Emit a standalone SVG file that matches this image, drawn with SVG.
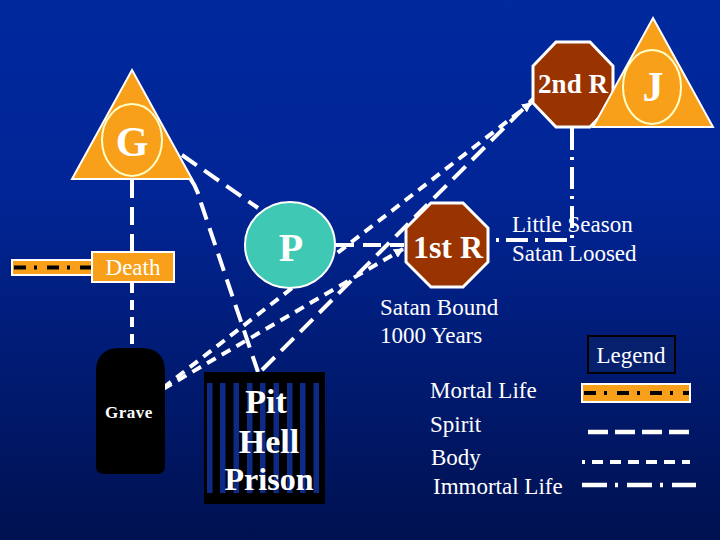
<svg xmlns="http://www.w3.org/2000/svg" width="720" height="540" viewBox="0 0 720 540">
<defs>
<linearGradient id="bg" x1="0" y1="0" x2="0" y2="1">
<stop offset="0" stop-color="#00299e"/>
<stop offset="0.35" stop-color="#012596"/>
<stop offset="1" stop-color="#001150"/>
</linearGradient>
<marker id="arr" viewBox="0 0 10 10" refX="9" refY="5" markerWidth="2.5" markerHeight="2.5" orient="auto" markerUnits="strokeWidth">
<path d="M0,0 L10,5 L0,10 z" fill="#fff"/>
</marker>
<style>
.txt{font-family:"Liberation Serif","Times New Roman",serif;fill:#fff}
.b{font-weight:bold}
.spirit{fill:none;stroke:#fff;stroke-width:4;stroke-dasharray:18 9}
.body{fill:none;stroke:#fff;stroke-width:4;stroke-dasharray:10 7}
.immortal{fill:none;stroke:#fff;stroke-width:4;stroke-dasharray:22 7 3 7}
.band{fill:#f9a01b;stroke:#fff;stroke-width:2}
.mortal{fill:none;stroke:#000;stroke-width:4;stroke-dasharray:12 8 3 10}
.tri{fill:#f9a01b;stroke:#fff;stroke-width:2}
.oval{fill:none;stroke:#ffffc8;stroke-width:2}
.oct{fill:#993300;stroke:#fff;stroke-width:3}
.bar{fill:#0c2a88}
</style>
</defs>
<rect x="0" y="0" width="720" height="540" fill="url(#bg)"/>

<g id="connectors">
  <rect class="band" x="12" y="260" width="80" height="15"/>
  <line class="mortal" x1="14" y1="267.5" x2="91" y2="267.5"/>
  <line class="spirit" x1="132" y1="180" x2="132" y2="252"/>
  <line class="body" x1="132" y1="283" x2="132" y2="348"/>
  <line class="spirit" x1="182" y1="155" x2="258" y2="208"/>
  <path class="spirit" d="M190,178 C196,186 199,195 201,203 L258,372"/>
  <line class="spirit" x1="336" y1="245" x2="404" y2="245"/>
  <line class="body" x1="163" y1="389" x2="403" y2="249" marker-end="url(#arr)"/>
  <line class="body" x1="163" y1="388" x2="531" y2="103" marker-end="url(#arr)"/>
  <line class="spirit" x1="262" y1="370" x2="533" y2="99"/>
  <polyline class="immortal" points="572,128 572,240 489,240"/>
</g>

<g id="node-G">
  <polygon class="tri" points="132,70 192,179 72,179"/>
  <ellipse class="oval" cx="132" cy="140" rx="30" ry="36"/>
  <text class="txt b" x="132" y="156" font-size="42" text-anchor="middle">G</text>
</g>

<g id="node-death">
  <rect x="92" y="252" width="82" height="30" fill="#f9a01b" stroke="#fff" stroke-width="2"/>
  <text class="txt" x="133" y="275" font-size="23" text-anchor="middle">Death</text>
</g>

<g id="node-grave">
  <path d="M104,474 Q96,474 96,466 L96,372 Q96,348 120,348 L141,348 Q165,348 165,372 L165,466 Q165,474 157,474 Z" fill="#000"/>
  <text class="txt b" x="129" y="418" font-size="17" letter-spacing="0.5" text-anchor="middle">Grave</text>
</g>

<g id="node-pit">
  <rect x="204" y="372" width="121" height="132" fill="#000"/>
  <rect class="bar" x="207" y="383" width="5.5" height="110"/>
  <rect class="bar" x="220" y="383" width="5.5" height="110"/>
  <rect class="bar" x="233.5" y="383" width="5.5" height="110"/>
  <rect class="bar" x="247" y="383" width="5.5" height="110"/>
  <rect class="bar" x="260" y="383" width="5.5" height="110"/>
  <rect class="bar" x="273.5" y="383" width="5.5" height="110"/>
  <rect class="bar" x="287" y="383" width="5.5" height="110"/>
  <rect class="bar" x="300" y="383" width="5.5" height="110"/>
  <rect class="bar" x="313.5" y="383" width="5.5" height="110"/>
  <text class="txt b" x="266" y="413" font-size="34" text-anchor="middle">Pit</text>
  <text class="txt b" x="269" y="453" font-size="34" text-anchor="middle">Hell</text>
  <text class="txt b" x="269" y="490" font-size="32" text-anchor="middle">Prison</text>
</g>

<g id="node-P">
  <ellipse cx="290" cy="245" rx="45" ry="43" fill="#3fc8b4" stroke="#fff" stroke-width="2"/>
  <text class="txt b" x="291" y="261" font-size="40" text-anchor="middle">P</text>
</g>

<g id="node-1stR">
  <polygon class="oct" points="431,203 463,203 488,228 488,262 463,287 431,287 406,262 406,228"/>
  <text class="txt b" x="448" y="258" font-size="32" text-anchor="middle">1st R</text>
</g>

<g id="node-2ndR">
  <polygon class="oct" points="556,42 590,42 613,66 613,103 590,127 556,127 533,103 533,66"/>
  <text class="txt b" x="573" y="93" font-size="27" text-anchor="middle">2nd R</text>
</g>

<g id="node-J">
  <polygon class="tri" points="653,18 713,127 593,127"/>
  <ellipse class="oval" cx="652" cy="87" rx="29" ry="37"/>
  <text class="txt b" x="653" y="101" font-size="42" text-anchor="middle">J</text>
</g>

<g id="labels">
  <text class="txt" x="512" y="232" font-size="23">Little Season</text>
  <text class="txt" x="512" y="261" font-size="23">Satan Loosed</text>
  <text class="txt" x="380" y="315" font-size="23">Satan Bound</text>
  <text class="txt" x="380" y="343" font-size="23">1000 Years</text>
</g>

<g id="legend">
  <rect x="588" y="336" width="87" height="37" fill="#07206e" stroke="#000" stroke-width="2"/>
  <text class="txt" x="631" y="363" font-size="23" text-anchor="middle">Legend</text>
  <text class="txt" x="430" y="398" font-size="23">Mortal Life</text>
  <text class="txt" x="430" y="432" font-size="23">Spirit</text>
  <text class="txt" x="431" y="465" font-size="23">Body</text>
  <text class="txt" x="433" y="494" font-size="23">Immortal Life</text>
  <rect class="band" x="582" y="384" width="108" height="18"/>
  <line class="mortal" x1="584" y1="393" x2="689" y2="393"/>
  <line x1="588" y1="432" x2="690" y2="432" stroke="#fff" stroke-width="4.5" stroke-dasharray="20 7"/>
  <line x1="582" y1="462" x2="690" y2="462" stroke="#fff" stroke-width="4" stroke-dasharray="11 7" stroke-dashoffset="8"/>
  <line x1="582" y1="485" x2="696" y2="485" stroke="#fff" stroke-width="4.5" stroke-dasharray="25 8 3 9"/>
</g>
</svg>
